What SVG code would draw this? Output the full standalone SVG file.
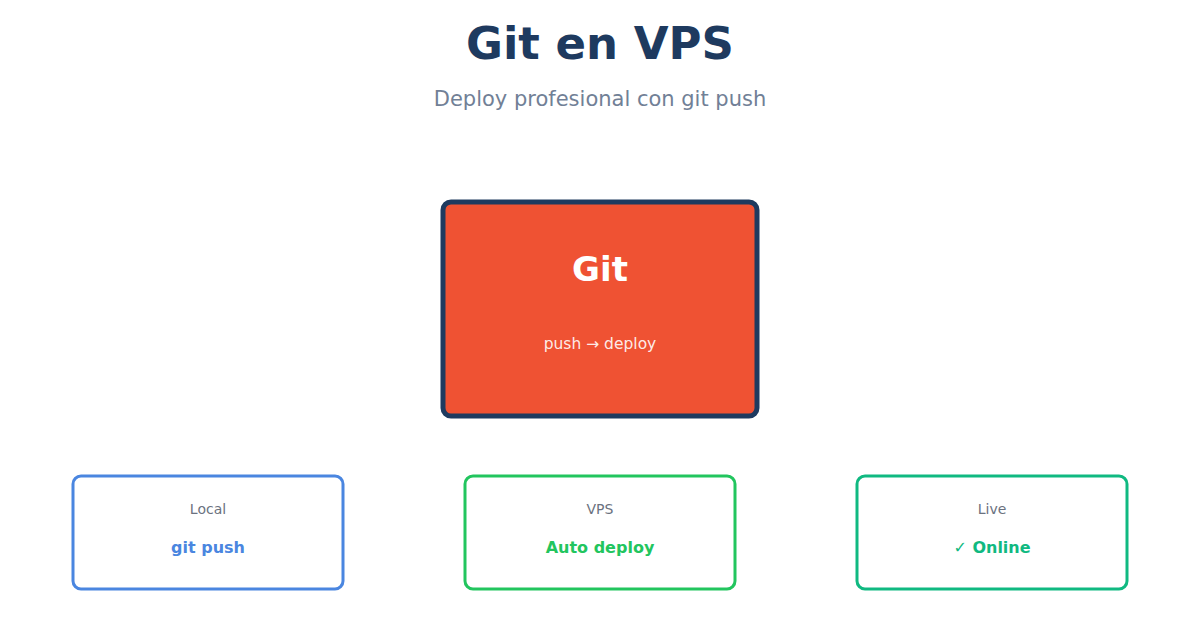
<svg xmlns="http://www.w3.org/2000/svg" width="1200" height="630" viewBox="0 0 1200 630">
<style>
text{font-family:"DejaVu Sans","Noto Sans",sans-serif;text-anchor:middle}
.title{font-size:45px;font-weight:bold;fill:#1e3a5f}
.sub{font-size:21px;fill:#718096}
.card{fill:#ffffff;stroke-width:3}
.lbl{font-size:14px;fill:#6b7280}
.val{font-size:16px;font-weight:bold}
</style>
<rect width="1200" height="630" fill="#ffffff"/>
<text class="title" x="600" y="59">Git en VPS</text>
<text class="sub" x="600" y="106">Deploy profesional con git push</text>
<g id="git">
<rect x="443" y="202" width="314" height="214" rx="8" fill="#ef5233" stroke="#1e3a5f" stroke-width="5"/>
<text x="600" y="281" style="font-size:34px;font-weight:bold;fill:#ffffff">Git</text>
<text x="600" y="349" style="font-size:15.5px;fill:#ffffff;fill-opacity:0.9">push → deploy</text>
</g>
<g id="local">
<rect class="card" x="73" y="476" width="270" height="113" rx="8" stroke="#4a86e0"/>
<text class="lbl" x="208" y="514">Local</text>
<text class="val" x="208" y="553" fill="#4a86e0">git push</text>
</g>
<g id="vps">
<rect class="card" x="465" y="476" width="270" height="113" rx="8" stroke="#22c55e"/>
<text class="lbl" x="600" y="514">VPS</text>
<text class="val" x="600" y="553" fill="#22c55e">Auto deploy</text>
</g>
<g id="live">
<rect class="card" x="857" y="476" width="270" height="113" rx="8" stroke="#10b981"/>
<text class="lbl" x="992" y="514">Live</text>
<text class="val" x="992" y="553" fill="#10b981">✓ Online</text>
</g>
<g id="connectors"></g>
</svg>
